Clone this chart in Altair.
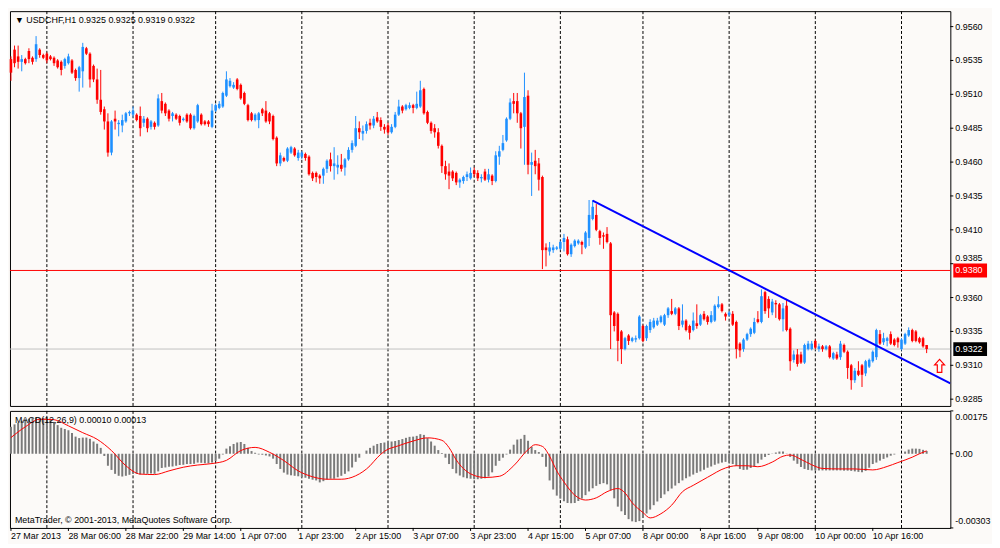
import altair as alt
import pandas as pd

BG = "#FCFAF8"
FONT = "Liberation Sans"

# ---------------- OHLC (in 1/10000, i.e. 9536 = 0.9536), USDCHF H1 ----------------
O_PIPS = [
    9536, 9543, 9538, 9534, 9536, 9542, 9537, 9536, 9543, 9539,
    9540, 9538, 9537, 9535, 9534, 9531, 9533, 9535, 9528, 9522,
    9527, 9544, 9540, 9531, 9521, 9506, 9499, 9490, 9467, 9492,
    9488, 9487, 9490, 9496, 9495, 9495, 9494, 9489, 9492, 9486,
    9489, 9487, 9505, 9503, 9498, 9494, 9495, 9494, 9491, 9495,
    9495, 9485, 9490, 9495, 9490, 9490, 9486, 9498, 9500, 9501,
    9509, 9516, 9515, 9521, 9517, 9511, 9502, 9496, 9491, 9491,
    9499, 9498, 9496, 9494, 9478, 9459, 9463, 9461, 9467, 9470,
    9463, 9464, 9466, 9464, 9452, 9452, 9450, 9450, 9455, 9462,
    9457, 9456, 9458, 9456, 9462, 9469, 9472, 9485, 9481, 9483,
    9489, 9487, 9493, 9491, 9486, 9487, 9482, 9486, 9495, 9501,
    9499, 9500, 9502, 9500, 9501, 9514, 9497, 9489, 9485, 9482,
    9472, 9457, 9453, 9453, 9452, 9445, 9446, 9449, 9448, 9454,
    9452, 9448, 9453, 9447, 9450, 9446, 9464, 9469, 9476, 9492,
    9505, 9505, 9496, 9486, 9509, 9458, 9461, 9459, 9449, 9397,
    9394, 9395, 9396, 9396, 9401, 9403, 9392, 9398, 9400, 9401,
    9397, 9404, 9418, 9421, 9409, 9406, 9407, 9400, 9349, 9348,
    9335, 9322, 9332, 9328, 9329, 9330, 9339, 9330, 9336, 9338,
    9340, 9342, 9340, 9347, 9350, 9348, 9352, 9340, 9343, 9339,
    9336, 9341, 9340, 9348, 9346, 9342, 9343, 9353, 9355, 9348,
    9347, 9348, 9342, 9326, 9322, 9329, 9333, 9334, 9344, 9342,
    9364, 9359, 9349, 9356, 9355, 9344, 9354, 9337, 9314, 9318,
    9318, 9312, 9322, 9322, 9328, 9322, 9324, 9322, 9324, 9315,
    9318, 9316, 9325, 9320, 9310, 9299, 9306, 9310, 9304, 9309,
    9313, 9316, 9333, 9327, 9328, 9333, 9329, 9330, 9322, 9326,
    9332, 9336, 9335, 9330, 9330, 9325,
]
H_PIPS = [
    9538, 9546, 9546, 9539, 9537, 9544, 9538, 9553, 9544, 9540,
    9541, 9539, 9538, 9536, 9535, 9537, 9540, 9536, 9529, 9531,
    9548, 9545, 9541, 9532, 9529, 9528, 9501, 9496, 9491, 9498,
    9491, 9495, 9497, 9498, 9501, 9496, 9501, 9494, 9493, 9491,
    9490, 9510, 9511, 9504, 9499, 9497, 9496, 9495, 9493, 9496,
    9496, 9495, 9503, 9496, 9491, 9491, 9503, 9503, 9505, 9512,
    9527, 9522, 9519, 9522, 9518, 9512, 9503, 9497, 9496, 9497,
    9500, 9505, 9497, 9495, 9479, 9467, 9464, 9471, 9472, 9471,
    9469, 9468, 9467, 9465, 9453, 9453, 9451, 9456, 9462, 9467,
    9471, 9465, 9466, 9463, 9471, 9476, 9494, 9490, 9487, 9490,
    9492, 9494, 9497, 9493, 9488, 9489, 9488, 9497, 9506, 9502,
    9503, 9504, 9503, 9512, 9520, 9515, 9498, 9490, 9488, 9485,
    9473, 9461, 9459, 9454, 9453, 9448, 9450, 9453, 9456, 9456,
    9454, 9451, 9455, 9455, 9451, 9468, 9472, 9480, 9493, 9507,
    9511, 9511, 9497, 9526, 9513, 9467, 9469, 9463, 9450, 9400,
    9401, 9399, 9398, 9402, 9407, 9405, 9400, 9403, 9403, 9402,
    9409, 9432, 9432, 9429, 9410, 9408, 9412, 9401, 9350, 9349,
    9336, 9331, 9333, 9331, 9332, 9347, 9340, 9340, 9344, 9345,
    9345, 9347, 9348, 9353, 9359, 9353, 9353, 9355, 9344, 9340,
    9349, 9355, 9348, 9350, 9347, 9350, 9355, 9361, 9356, 9349,
    9350, 9350, 9343, 9327, 9330, 9334, 9338, 9345, 9350, 9366,
    9365, 9361, 9359, 9358, 9356, 9356, 9359, 9338, 9321, 9322,
    9320, 9326, 9328, 9328, 9329, 9326, 9325, 9325, 9325, 9320,
    9320, 9328, 9326, 9321, 9311, 9308, 9313, 9311, 9314, 9315,
    9321, 9337, 9336, 9334, 9331, 9335, 9330, 9331, 9330, 9334,
    9338, 9337, 9336, 9331, 9331, 9325,
]
L_PIPS = [
    9520, 9530, 9529, 9527, 9532, 9533, 9532, 9534, 9537, 9536,
    9533, 9535, 9531, 9529, 9524, 9529, 9532, 9525, 9520, 9512,
    9515, 9539, 9515, 9519, 9503, 9495, 9484, 9464, 9465, 9484,
    9479, 9482, 9489, 9494, 9493, 9490, 9479, 9486, 9482, 9484,
    9484, 9486, 9496, 9494, 9490, 9490, 9491, 9487, 9490, 9489,
    9484, 9484, 9489, 9487, 9487, 9486, 9485, 9497, 9499, 9500,
    9508, 9515, 9514, 9513, 9506, 9502, 9490, 9490, 9490, 9485,
    9494, 9489, 9488, 9476, 9457, 9457, 9460, 9460, 9466, 9464,
    9461, 9462, 9461, 9450, 9446, 9445, 9444, 9444, 9452, 9453,
    9447, 9451, 9453, 9450, 9461, 9467, 9471, 9477, 9476, 9481,
    9484, 9485, 9489, 9483, 9481, 9480, 9481, 9485, 9494, 9496,
    9498, 9499, 9496, 9499, 9500, 9495, 9488, 9481, 9478, 9470,
    9452, 9447, 9440, 9446, 9443, 9441, 9444, 9446, 9447, 9449,
    9446, 9445, 9446, 9445, 9443, 9445, 9458, 9468, 9475, 9491,
    9496, 9489, 9470, 9458, 9451, 9435, 9451, 9439, 9381, 9383,
    9391, 9393, 9395, 9395, 9394, 9391, 9390, 9397, 9399, 9392,
    9396, 9398, 9417, 9409, 9399, 9396, 9400, 9322, 9335, 9313,
    9311, 9321, 9325, 9327, 9327, 9329, 9327, 9328, 9334, 9337,
    9339, 9341, 9339, 9345, 9347, 9347, 9336, 9338, 9335, 9329,
    9335, 9337, 9339, 9343, 9340, 9341, 9342, 9352, 9349, 9343,
    9346, 9339, 9315, 9316, 9320, 9328, 9331, 9333, 9341, 9341,
    9348, 9345, 9347, 9345, 9343, 9335, 9335, 9306, 9312, 9309,
    9311, 9311, 9321, 9321, 9322, 9320, 9320, 9321, 9315, 9314,
    9314, 9314, 9319, 9300, 9292, 9297, 9302, 9294, 9302, 9308,
    9312, 9314, 9325, 9325, 9324, 9325, 9324, 9323, 9321, 9325,
    9331, 9327, 9327, 9326, 9323, 9319,
]
C_PIPS = [
    9526, 9533, 9534, 9536, 9533, 9536, 9534, 9547, 9539, 9537,
    9535, 9536, 9533, 9530, 9528, 9536, 9538, 9526, 9522, 9530,
    9545, 9540, 9521, 9521, 9506, 9497, 9490, 9467, 9490, 9490,
    9489, 9491, 9496, 9497, 9498, 9491, 9485, 9492, 9485, 9490,
    9486, 9507, 9498, 9496, 9492, 9496, 9492, 9489, 9492, 9490,
    9485, 9494, 9502, 9488, 9488, 9488, 9498, 9502, 9503, 9511,
    9521, 9520, 9517, 9514, 9507, 9503, 9491, 9491, 9495, 9496,
    9496, 9490, 9490, 9477, 9459, 9465, 9461, 9470, 9471, 9465,
    9467, 9467, 9463, 9451, 9448, 9449, 9448, 9455, 9461, 9457,
    9459, 9458, 9455, 9462, 9469, 9474, 9485, 9482, 9483, 9488,
    9487, 9492, 9490, 9486, 9484, 9482, 9486, 9495, 9501, 9498,
    9502, 9502, 9500, 9503, 9513, 9496, 9489, 9483, 9482, 9472,
    9457, 9451, 9450, 9448, 9445, 9447, 9449, 9451, 9452, 9451,
    9448, 9449, 9447, 9451, 9446, 9465, 9468, 9474, 9492, 9504,
    9503, 9496, 9485, 9508, 9458, 9460, 9457, 9447, 9395, 9395,
    9397, 9397, 9397, 9401, 9404, 9392, 9399, 9402, 9402, 9399,
    9408, 9421, 9427, 9410, 9404, 9405, 9401, 9347, 9339, 9328,
    9322, 9330, 9328, 9330, 9330, 9346, 9328, 9339, 9342, 9343,
    9343, 9346, 9347, 9352, 9348, 9352, 9339, 9343, 9336, 9334,
    9343, 9339, 9347, 9344, 9342, 9347, 9354, 9355, 9350, 9346,
    9349, 9340, 9322, 9321, 9329, 9333, 9337, 9342, 9342, 9361,
    9350, 9352, 9357, 9355, 9344, 9352, 9336, 9313, 9318, 9311,
    9312, 9325, 9326, 9326, 9323, 9324, 9322, 9324, 9316, 9319,
    9315, 9326, 9320, 9308, 9299, 9306, 9303, 9303, 9313, 9314,
    9320, 9336, 9326, 9330, 9330, 9326, 9325, 9327, 9329, 9333,
    9336, 9328, 9328, 9327, 9324, 9322,
]

# ---------------- MACD(12,26,9) main histogram, in 1e-5 ----------------
MACD_HIST = [
    110, 120, 127, 135, 141, 143, 146, 147, 147, 146,
    143, 139, 130, 117, 106, 101, 96, 85, 70, 64,
    66, 66, 61, 50, 41, 24, -9, -49, -66, -82,
    -90, -93, -90, -86, -82, -82, -85, -82, -82, -81,
    -82, -72, -58, -56, -53, -52, -49, -46, -45, -42,
    -42, -41, -36, -37, -39, -39, -36, -29, -20, -3,
    21, 31, 40, 46, 48, 40, 24, 11, 4, -3,
    -4, -7, -11, -20, -42, -62, -77, -85, -88, -90,
    -92, -96, -98, -102, -106, -109, -117, -112, -105, -102,
    -102, -96, -90, -82, -72, -56, -33, -16, 0, 13,
    24, 33, 40, 44, 46, 46, 50, 52, 56, 60,
    65, 69, 70, 73, 80, 77, 64, 50, 33, 15,
    3, -16, -42, -62, -80, -89, -96, -100, -102, -104,
    -104, -102, -100, -93, -76, -49, -29, -16, -3, 17,
    37, 58, 61, 77, 53, 28, 15, 7, -13, -53,
    -109, -146, -171, -183, -194, -201, -202, -201, -193, -183,
    -169, -154, -141, -131, -124, -120, -125, -149, -182, -216,
    -235, -250, -267, -276, -279, -275, -262, -244, -228, -210,
    -195, -181, -166, -153, -142, -130, -120, -109, -100, -93,
    -85, -78, -72, -65, -57, -52, -45, -40, -36, -33,
    -36, -42, -50, -62, -66, -65, -58, -50, -39, -24,
    -13, -5, 1, 5, 9, 9, 1, -13, -28, -41,
    -54, -62, -66, -68, -68, -68, -68, -68, -68, -68,
    -68, -68, -69, -69, -70, -72, -74, -76, -70, -57,
    -42, -36, -28, -21, -15, -8, -3, 0, 1, 9,
    17, 21, 21, 20, 16, 11,
]
# signal line, read at sample bars (1e-5)
SIG_BARS = [0, 4, 8, 12, 16, 20, 24, 28, 32, 36, 40, 44, 48, 52, 56, 60, 64, 68, 72, 76,
            80, 84, 88, 92, 96, 100, 102, 104, 108, 112, 116, 120, 122, 124, 128, 132, 136,
            140, 144, 146, 148, 150, 152, 154, 157, 160, 163, 166, 169, 171, 173, 176, 178,
            181, 184, 187, 190, 194, 199, 202, 205, 208, 212, 215, 217, 220, 223, 226, 231,
            235, 240, 244, 247, 251, 253, 255]
SIG_VALS = [66, 110, 141, 139, 114, 86, 59, 13, -49, -83, -85, -70, -55, -46, -40, -27, 13, 26, 6, -28,
            -70, -94, -104, -104, -90, -49, -16, 10, 33, 52, 65, 55, 25, -25, -82, -97, -92,
            -49, 17, 37, 30, -10, -70, -115, -169, -189, -180, -155, -142, -160, -200, -240, -262,
            -245, -210, -155, -129, -96, -58, -49, -49, -53, -34, -10, -5, -23, -45, -60, -62,
            -62, -66, -52, -36, -14, 0, 12]

# ---------------- time axis / separators / price scale ----------------
TICK_BARS = [0, 16, 32, 48, 64, 80, 96, 112, 128, 144, 160, 176, 192, 208, 224, 240]
TICK_LABELS = ["27 Mar 2013", "28 Mar 06:00", "28 Mar 22:00", "29 Mar 14:00", "1 Apr 07:00",
               "1 Apr 23:00", "2 Apr 15:00", "3 Apr 07:00", "3 Apr 23:00", "4 Apr 15:00",
               "5 Apr 07:00", "8 Apr 00:00", "8 Apr 16:00", "9 Apr 08:00", "10 Apr 00:00",
               "10 Apr 16:00"]
DAY_STARTS = [10, 34, 57, 81, 105, 129, 153, 176, 200, 224, 248]
PRICE_TICKS = [0.9285, 0.9310, 0.9335, 0.9360, 0.9385, 0.9410, 0.9435, 0.9460,
               0.9485, 0.9510, 0.9535, 0.9560]
MACD_TICKS = [175, 0, -303]
MACD_TICK_LABELS = ["0.00175", "0.00", "-0.00303"]

# objects drawn on the chart
LEVEL_PRICE = [0.9380]
BID_PRICE = [0.9322]
TREND_BARS = [162.0, 261.6]
TREND_PRICES = [0.94316, 0.92967]
ARROW_BAR = [258.6]
ARROW_PRICE = [0.93096]

TITLE = "\u25BC USDCHF,H1  0.9325 0.9325 0.9319 0.9322"
MACD_TITLE = "MACD(12,26,9) 0.00010 0.00013"
COPYRIGHT = "MetaTrader, \u00A9 2001-2013, MetaQuotes Software Corp."

# ---------------- build ----------------
n = len(C_PIPS)
df = pd.DataFrame({
    "i": list(range(n)),
    "o": [v / 10000 for v in O_PIPS],
    "h": [v / 10000 for v in H_PIPS],
    "l": [v / 10000 for v in L_PIPS],
    "c": [v / 10000 for v in C_PIPS],
    "hist": MACD_HIST,
})
df["dir"] = ["up" if c >= o else "down" for o, c in zip(O_PIPS, C_PIPS)]

W, H1, H2 = 948, 398, 118
xs = alt.Scale(domain=[-0.27, 261.6], nice=False, zero=False)
ys = alt.Scale(domain=[0.92800, 0.95714], nice=False, zero=False)
ms = alt.Scale(domain=[-303, 175], nice=False, zero=False)
col = alt.Color("dir:N", scale=alt.Scale(domain=["up", "down"], range=["#1E90FF", "#FF0000"]), legend=None)
X = alt.X("i:Q", scale=xs, axis=None)


def PY(field):
    return alt.Y(field, scale=ys, axis=None)


def MY(field):
    return alt.Y(field, scale=ms, axis=None)


txt = dict(font=FONT, fontSize=9, color="black")

# ---- price panel ----
seps_df = pd.DataFrame({"i": DAY_STARTS})
seps = alt.Chart(seps_df).mark_rule(color="black", strokeDash=[3, 2], strokeWidth=1).encode(x=X)

level = alt.Chart(pd.DataFrame({"p": LEVEL_PRICE})).mark_rule(color="#FF0000", strokeWidth=1).encode(y=PY("p:Q"))
bid = alt.Chart(pd.DataFrame({"p": BID_PRICE})).mark_rule(color="#C0C0C0", strokeWidth=1).encode(y=PY("p:Q"))

wicks = alt.Chart(df).mark_rule(strokeWidth=1).encode(x=X, y=PY("l:Q"), y2="h:Q", color=col)
bodies = alt.Chart(df).mark_rule(strokeWidth=2.6, strokeCap="butt").encode(x=X, y=PY("o:Q"), y2="c:Q", color=col)

trend = alt.Chart(pd.DataFrame({"i": TREND_BARS, "p": TREND_PRICES})).mark_line(
    color="#0000FF", strokeWidth=2, clip=True).encode(x=X, y=PY("p:Q"))

ARROW_SHAPE = "M0,-1L0.77,-0.15L0.35,-0.15L0.35,1L-0.35,1L-0.35,-0.15L-0.77,-0.15Z"
arrow = alt.Chart(pd.DataFrame({"i": ARROW_BAR, "p": ARROW_PRICE})).mark_point(
    shape=ARROW_SHAPE, size=169, filled=True, fill=BG, stroke="#FF0000", strokeWidth=1.2,
    opacity=1).encode(x=X, y=PY("p:Q"))

title = alt.Chart(pd.DataFrame({"t": [TITLE]})).mark_text(align="left", baseline="middle", **txt).encode(
    x=alt.value(5), y=alt.value(9), text="t:N")

ptick_df = pd.DataFrame({"p": PRICE_TICKS})
ptick = alt.Chart(ptick_df).mark_rule(color="black", strokeWidth=1).encode(
    x=alt.value(W), x2=alt.value(W + 3), y=PY("p:Q"))
near_level = f"abs(datum.p - {LEVEL_PRICE[0]}) < 0.0007"
plab = alt.Chart(ptick_df).transform_filter(f"!({near_level})").mark_text(
    align="left", baseline="middle", **txt).encode(
    x=alt.value(W + 5), y=PY("p:Q"), text=alt.Text("p:Q", format=".4f"))
# the scale label next to the highlighted level sits just above its price box
plab_near = alt.Chart(ptick_df).transform_filter(near_level).mark_text(
    align="left", baseline="bottom", dy=-1, **txt).encode(
    x=alt.value(W + 5), y=PY("p:Q"), text=alt.Text("p:Q", format=".4f"))

BOX_SHAPE = "M-1,-0.41L1,-0.41L1,0.41L-1,0.41Z"
boxes_df = pd.DataFrame({"p": LEVEL_PRICE + BID_PRICE,
                         "fill": ["#FF0000", "#000000"]})
boxes = alt.Chart(boxes_df).mark_point(shape=BOX_SHAPE, size=1156, filled=True, opacity=1,
                                       strokeWidth=0).encode(
    x=alt.value(W + 20), y=PY("p:Q"), color=alt.Color("fill:N", scale=None))
box_txt = alt.Chart(boxes_df).mark_text(align="left", baseline="middle", font=FONT, fontSize=9,
                                        color="white").encode(
    x=alt.value(W + 5), y=PY("p:Q"), text=alt.Text("p:Q", format=".4f"))

top = alt.layer(seps, level, bid, wicks, bodies, trend, arrow, title, ptick, plab, plab_near,
                boxes, box_txt).properties(width=W, height=H1)

# ---- MACD panel ----
seps2 = alt.Chart(seps_df).mark_rule(color="black", strokeDash=[3, 2], strokeWidth=1).encode(x=X)
hist = alt.Chart(df).mark_rule(strokeWidth=2, color="#7A7A7A", strokeCap="butt").encode(
    x=X, y=MY("hist:Q"), y2=alt.datum(0))
signal = alt.Chart(pd.DataFrame({"i": SIG_BARS, "s": SIG_VALS})).mark_line(
    color="#FF0000", strokeWidth=1, interpolate="monotone").encode(x=X, y=MY("s:Q"))
mtitle = alt.Chart(pd.DataFrame({"t": [MACD_TITLE]})).mark_text(align="left", baseline="middle", **txt).encode(
    x=alt.value(5), y=alt.value(9), text="t:N")
copy = alt.Chart(pd.DataFrame({"t": [COPYRIGHT]})).mark_text(align="left", baseline="middle", **txt).encode(
    x=alt.value(5), y=alt.value(H2 - 8), text="t:N")

mt_df = pd.DataFrame({"v": MACD_TICKS, "lab": MACD_TICK_LABELS})
mtick = alt.Chart(mt_df).mark_rule(color="black", strokeWidth=1).encode(
    x=alt.value(W), x2=alt.value(W + 3), y=MY("v:Q"))
mlab_top = alt.Chart(mt_df).transform_filter("datum.v > 100").mark_text(
    align="left", baseline="top", dy=2, **txt).encode(x=alt.value(W + 5), y=MY("v:Q"), text="lab:N")
mlab_mid = alt.Chart(mt_df).transform_filter("datum.v == 0").mark_text(
    align="left", baseline="middle", **txt).encode(x=alt.value(W + 5), y=MY("v:Q"), text="lab:N")
mlab_bot = alt.Chart(mt_df).transform_filter("datum.v < -100").mark_text(
    align="left", baseline="bottom", dy=-2, **txt).encode(x=alt.value(W + 5), y=MY("v:Q"), text="lab:N")

tt_df = pd.DataFrame({"i": TICK_BARS, "lab": TICK_LABELS})
ttick = alt.Chart(tt_df).mark_rule(color="black", strokeWidth=1).encode(
    x=X, y=alt.value(H2), y2=alt.value(H2 + 3))
tlab = alt.Chart(tt_df).mark_text(align="left", baseline="top", dy=1, **txt).encode(
    x=X, y=alt.value(H2 + 3), text="lab:N")

bottom = alt.layer(seps2, hist, signal, mtitle, copy, mtick, mlab_top, mlab_mid, mlab_bot,
                   ttick, tlab).properties(width=W, height=H2)

chart = alt.vconcat(top, bottom, spacing=3, padding=0, background=BG).configure_view(
    fill=BG, stroke="black", strokeWidth=1)

chart.save("out.html", embed_options={"renderer": "svg", "actions": False})
